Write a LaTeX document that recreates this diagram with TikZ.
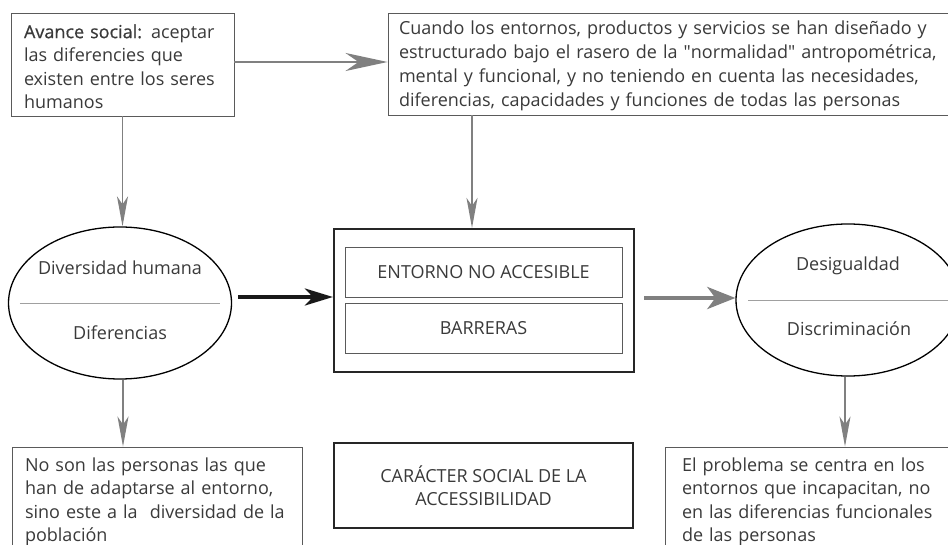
\documentclass[tikz,border=0pt]{standalone}
\usepackage{fontspec}
\setmainfont{Open Sans}
\newfontfamily\medfont[FakeBold=0.6]{Open Sans}
\newfontfamily\qfont[Ligatures=TeXOff]{Open Sans}
\usetikzlibrary{arrows.meta,shapes.geometric}
\definecolor{txt}{HTML}{3A3A3A}
\definecolor{arr}{HTML}{808080}
\definecolor{bord}{HTML}{5A5A5A}
\definecolor{sepc}{HTML}{A0A0A0}
\newcommand{\fstrut}{\rule{0pt}{18pt}}
\newcommand{\dq}{{\qfont "}}
\begin{document}
\begin{tikzpicture}[x=1pt,y=-1pt,
  font=\fontsize{18}{23.5}\selectfont, text=txt,
  tbox/.style={draw=bord, line width=0.9pt, align=left, inner ysep=0pt},
  ell/.style={ellipse, draw=black, line width=1.3pt, inner sep=0pt},
  sepline/.style={draw=sepc, line width=0.7pt},
  thick box/.style={draw=black!85, line width=2.2pt, inner sep=0pt, align=center},
  inbox/.style={draw=bord, line width=0.8pt, inner sep=0pt, minimum width=277pt, minimum height=50pt},
  bigarrow/.style={draw=arr, line width=2.8pt, -{Stealth[length=42pt,width=18pt,inset=13pt]}},
  downarrow/.style={draw=arr, line width=1.8pt, -{Stealth[length=30pt,width=11pt,inset=8pt]}},
  blackarrow/.style={draw=black!90, line width=3.6pt, -{Stealth[length=28pt,width=17pt,inset=8pt]}},
  grayarrow/.style={draw=arr, line width=4pt, -{Stealth[length=28pt,width=22pt,inset=8pt]}},
  lbl/.style={inner sep=0pt}
  ]
\clip (0,0) rectangle (948,545);
\fill[white] (0,0) rectangle (948,545);

% top boxes
\node[tbox, text width=197pt, inner xsep=13pt, minimum height=103pt] (tl) at (122.5,64.5)
  {\fstrut{\medfont Avance social:} aceptar\\las diferencies que\\existen entre los seres\\humanos};
\node[tbox, text width=570pt, inner xsep=11pt, minimum height=102pt,
  font=\fontsize{18}{24}\selectfont] (tr) at (684,64)
  {\fstrut Cuando los entornos, productos y servicios se han diseñado y\\estructurado bajo el rasero de la \dq normalidad\dq{} antropométrica,\\mental y funcional, y no teniendo en cuenta las necesidades,\\diferencias, capacidades y funciones de todas las personas};

% left ellipse
\node[ell, minimum width=223pt, minimum height=152pt] (el) at (120,303) {};
\node[lbl] (el1) at (120,268) {Diversidad humana};
\node[lbl] (el2) at (120,333) {Diferencias};
\draw[sepline] ([xshift=12pt]el.west) -- ([xshift=-12pt]el.east);

% right ellipse
\node[ell, minimum width=224pt, minimum height=152pt] (er) at (848,300) {};
\node[lbl] (er1) at (848,266) {Desigualdad};
\node[lbl] (er2) at (849,329) {Discriminación};
\draw[sepline] ([xshift=13pt]er.west) -- ([xshift=-13pt]er.east);

% center box
\node[thick box, minimum width=300pt, minimum height=143pt] (cb) at (484,300.5) {};
\node[inbox] (i1) at (483.5,272) {ENTORNO NO ACCESIBLE};
\node[inbox] (i2) at (483.5,328.5) {BARRERAS};

% bottom boxes
\node[tbox, text width=264pt, inner xsep=13pt, minimum height=110pt] (bl) at (157,502)
  {No son las personas las que\\han de adaptarse al entorno,\\sino este a la\ \ diversidad de la\\población};
\node[thick box, minimum width=299pt, minimum height=85pt,
  font=\fontsize{18}{23}\selectfont] (bc) at (483.5,485.5)
  {CARÁCTER SOCIAL DE LA\\ACCESSIBILIDAD};
\node[tbox, text width=270pt, inner xsep=17pt, minimum height=110pt] (br) at (817,502)
  {El problema se centra en los\\entornos que incapacitan, no\\en las diferencias funcionales\\de las personas};

% connectors
\draw[bigarrow] (tl.east |- 0,62) -- (tr.west |- 0,62);
\draw[downarrow] (tl.south) -- (tl.south |- el.north);
\draw[downarrow] (tr.south -| 472,0) -- (cb.north -| 472,0);
\draw[blackarrow] ([shift={(6,-6)}]el.east) -- (cb.west |- 0,297);
\draw[grayarrow] ([xshift=9pt]cb.east |- 0,298) -- (er.west |- 0,298);
\draw[downarrow] (el.south -| 123,0) -- (bl.north -| 123,0);
\draw[downarrow] (er.south -| 845,0) -- (br.north -| 845,0);
\end{tikzpicture}
\end{document}
